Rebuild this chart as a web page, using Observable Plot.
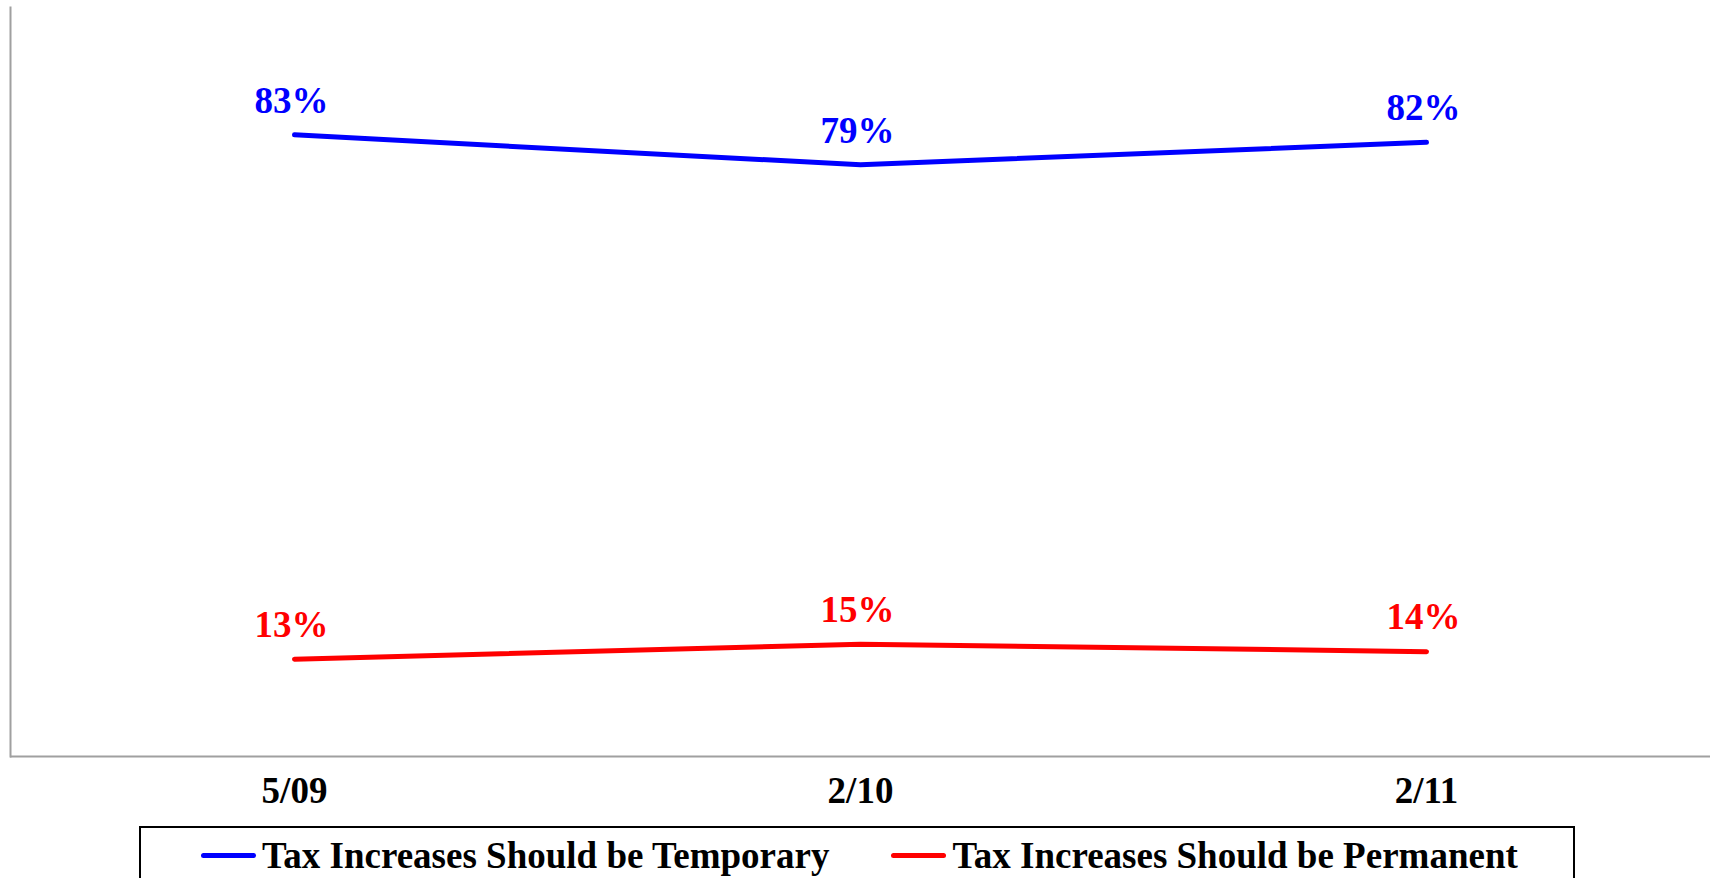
<!DOCTYPE html>
<html>
<head>
<meta charset="utf-8">
<script src="https://cdn.jsdelivr.net/npm/d3@7"></script>
<script src="https://cdn.jsdelivr.net/npm/@observablehq/plot@0.6"></script>
<style>
  html, body { margin: 0; padding: 0; background: white; }
  body { width: 1710px; height: 878px; overflow: hidden; font-family: "Times New Roman", "Liberation Serif", serif; }
  #chart svg { display: block; }
  .legend {
    box-sizing: border-box;
    margin-left: 139px;
    margin-top: 6px;
    width: 1436px;
    height: 70px;
    border: 2px solid black;
    display: flex;
    align-items: flex-start;
    padding-left: 60px;
    padding-top: 6px;
    font-size: 37px;
    font-weight: bold;
    color: black;
    gap: 62px;
  }
  .legend .item { display: flex; align-items: center; white-space: nowrap; }
  .legend .sw { display: inline-block; width: 55px; height: 5px; border-radius: 3px; margin-right: 6px; }
</style>
</head>
<body>
<div id="chart"></div>
<div class="legend" id="legend"></div>
<script>
const dates = ["5/09", "2/10", "2/11"];
const temporary = [83, 79, 82];
const permanent = [13, 15, 14];
const seriesNames = ["Tax Increases Should be Temporary", "Tax Increases Should be Permanent"];
const seriesColors = ["#0000ff", "#ff0000"];

const rows = dates.flatMap((d, i) => [
  {date: d, value: temporary[i], series: seriesNames[0]},
  {date: d, value: permanent[i], series: seriesNames[1]}
]);

const font = "'Times New Roman', 'Liberation Serif', serif";

const chart = Plot.plot({
  width: 1710,
  height: 820,
  marginTop: 7,
  marginBottom: 64,
  marginLeft: 10,
  marginRight: 0,
  style: {fontFamily: font, color: "black", background: "white"},
  x: {type: "point", domain: dates, padding: 0.5, label: null},
  y: {domain: [0, 100], axis: null},
  color: {domain: seriesNames, range: seriesColors},
  marks: [
    Plot.frame({anchor: "left", stroke: "#a0a0a0", strokeWidth: 2}),
    Plot.ruleY([0], {stroke: "#a0a0a0", strokeWidth: 2}),
    Plot.axisX({tickSize: 0, tickPadding: 20, fontSize: 37, fontWeight: "bold", label: null}),
    Plot.line(rows, {x: "date", y: "value", z: "series", stroke: "series", strokeWidth: 5, strokeLinecap: "round", strokeLinejoin: "round"}),
    Plot.text(rows, {x: "date", y: "value", text: d => d.value + "%", fill: "series", dx: -3, dy: -34, fontSize: 37, fontWeight: "bold"})
  ]
});
document.getElementById("chart").appendChild(chart);

const legend = document.getElementById("legend");
seriesNames.forEach((name, i) => {
  const item = document.createElement("div");
  item.className = "item";
  const sw = document.createElement("span");
  sw.className = "sw";
  sw.style.background = seriesColors[i];
  const label = document.createElement("span");
  label.textContent = name;
  item.appendChild(sw);
  item.appendChild(label);
  legend.appendChild(item);
});
</script>
</body>
</html>
